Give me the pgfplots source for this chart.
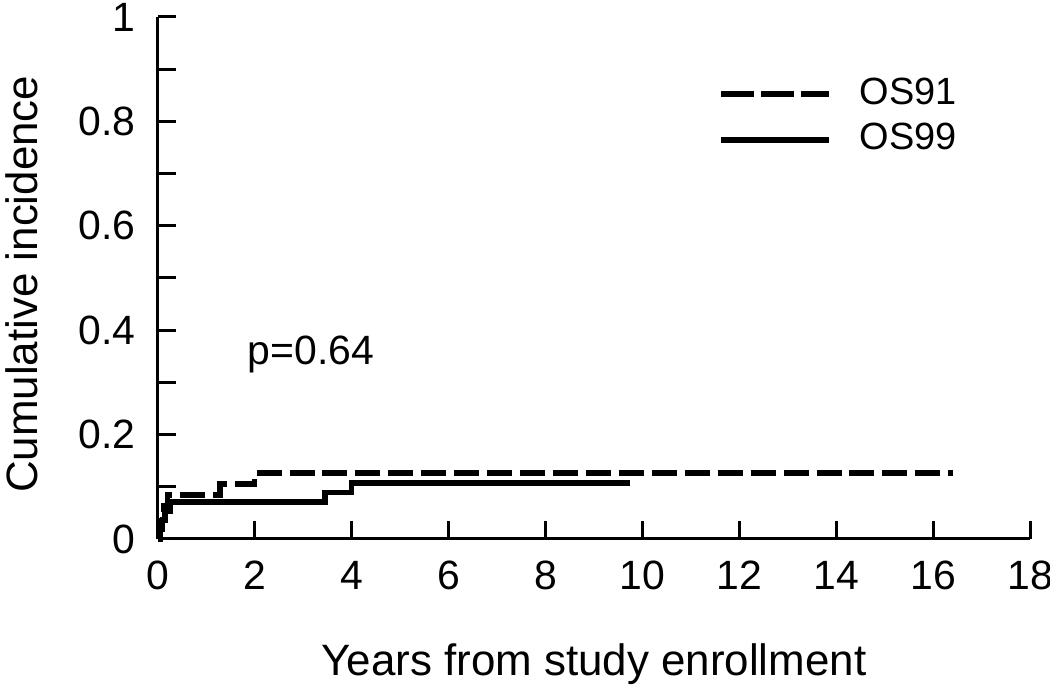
\documentclass[border=0pt]{standalone}
\usepackage{fontspec}
\setmainfont{Liberation Sans}
\usepackage{pgfplots}
\pgfplotsset{compat=1.18}
\pgfplotsset{dashleg/.style={legend image code/.code={%
  \draw[black, line width=2.8pt, dash pattern=on 16.5pt off 3.5pt] (0pt,0pt) -- (54pt,0pt);}}}

\begin{document}
\fontsize{20.5}{24}\selectfont
\begin{tikzpicture}
\begin{axis}[
  at={(0,0)}, anchor=origin,
  scale only axis, width=437pt, height=261.5pt,
  xmin=0, xmax=18, ymin=0, ymax=1,
  axis x line*=bottom, axis y line*=left,
  axis line style={line width=1.5pt, -},
  tick style={line width=1.5pt, black},
  tick align=inside, major tick length=9pt, minor tick length=9pt,
  xtick={0,2,...,18},
  ytick={0,0.2,0.4,0.6,0.8,1},
  yticklabels={0,0.2,0.4,0.6,0.8,1},
  minor ytick={0.1,0.3,0.5,0.7,0.9},
  /pgf/number format/assume math mode=true,
  ticklabel style={font=\fontsize{20.5}{24}\selectfont},
  xticklabel style={yshift=-4pt},
  yticklabel style={xshift=-4pt},
  label style={font=\fontsize{22}{26}\selectfont},
  xlabel={Years from study enrollment},
  ylabel={Cumulative incidence},
  xlabel style={at={(axis description cs:0.5,-0.24)}, anchor=center},
  ylabel style={at={(axis description cs:-0.1556,0.488)}, anchor=center},
  legend style={draw=none, fill=none, at={(axis cs:11.56,0.888)}, anchor=north west,
    inner sep=0pt, row sep=4.5pt, font=\fontsize{19}{22}\selectfont,
    nodes={inner sep=1pt},
    /tikz/every odd column/.append style={column sep=13pt}},
  legend cell align=left,
  legend image code/.code={\draw[#1] (0pt,0pt) -- (54pt,0pt);},
  clip=false,
]
\addplot[const plot, black, line width=2.8pt, dash pattern=on 12.5pt off 4pt, dashleg]
  coordinates {
  (0,0) (0.04,0.021) (0.08,0.042) (0.12,0.063) (0.2,0.084) (1.28,0.105) (2.0,0.126) (16.4,0.126)};
\addlegendentry{OS91}
\addplot[const plot, black, line width=2.8pt] coordinates {
  (0,0) (0.05,0.018) (0.1,0.036) (0.15,0.054) (0.25,0.071) (3.45,0.089) (4.0,0.107) (9.75,0.107)};
\addlegendentry{OS99}
\node[anchor=west, inner sep=0pt] at (axis cs:1.85,0.354) {p=0.64};
\end{axis}
\pgfresetboundingbox
\path[use as bounding box] (-79pt,-74pt) rectangle (447pt,270pt);
\end{tikzpicture}
\end{document}
